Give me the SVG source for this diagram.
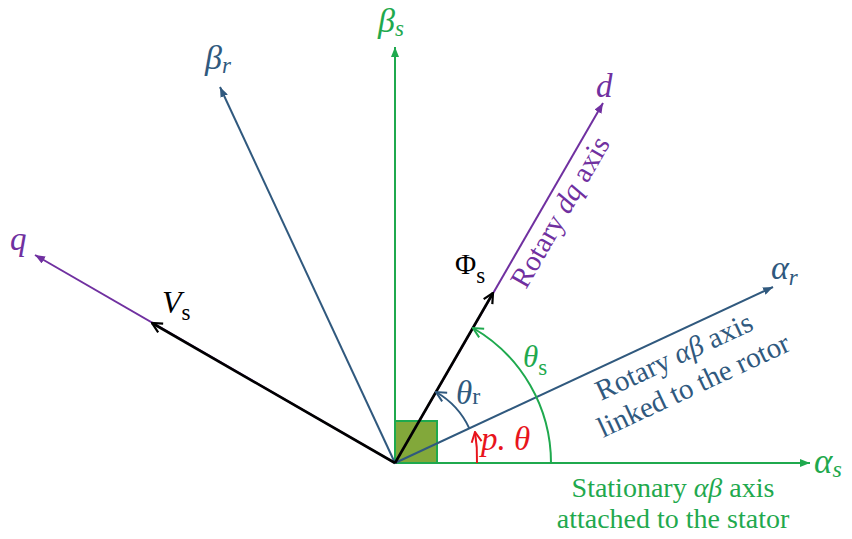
<svg xmlns="http://www.w3.org/2000/svg" width="852" height="539" viewBox="0 0 852 539">
<style>
.ax{fill:none;stroke-width:2}
.g{stroke:#1fa94e}
.b{stroke:#30597e}
.p{stroke:#7030a0}
.vec{fill:none;stroke:#000;stroke-width:2.6}
.t{font-family:"Liberation Serif",serif}
.m{font-family:"Liberation Serif",serif;font-style:italic}
.u{font-style:normal}
.tg{fill:#1fa94e}.tb{fill:#30597e}.tp{fill:#7030a0}.tk{fill:#000}.tr{fill:#e8141c}
</style>
<defs>
<marker id="fg" viewBox="0 0 10 8" refX="10" refY="4" markerWidth="10" markerHeight="8" markerUnits="userSpaceOnUse" orient="auto"><path d="M0,0 L10,4 L0,8 z" fill="#1fa94e"/></marker>
<marker id="fb" viewBox="0 0 10 8" refX="10" refY="4" markerWidth="10" markerHeight="8" markerUnits="userSpaceOnUse" orient="auto"><path d="M0,0 L10,4 L0,8 z" fill="#30597e"/></marker>
<marker id="fp" viewBox="0 0 10 8" refX="10" refY="4" markerWidth="10" markerHeight="8" markerUnits="userSpaceOnUse" orient="auto"><path d="M0,0 L10,4 L0,8 z" fill="#7030a0"/></marker>
<marker id="ok" viewBox="-1 -1 13 13" refX="11" refY="5.5" markerWidth="13" markerHeight="13" markerUnits="userSpaceOnUse" orient="auto"><path d="M1,0.5 L11,5.5 L1,10.5" fill="none" stroke="#000" stroke-width="2.2"/></marker>
<marker id="og" viewBox="-1 -1 13 13" refX="11" refY="5.5" markerWidth="13" markerHeight="13" markerUnits="userSpaceOnUse" orient="auto"><path d="M1,0.5 L11,5.5 L1,10.5" fill="none" stroke="#1fa94e" stroke-width="2"/></marker>
<marker id="ob" viewBox="-1 -1 13 13" refX="11" refY="5.5" markerWidth="13" markerHeight="13" markerUnits="userSpaceOnUse" orient="auto"><path d="M1,0.5 L11,5.5 L1,10.5" fill="none" stroke="#30597e" stroke-width="2"/></marker>
<marker id="or" viewBox="-1 -1 13 13" refX="11" refY="5.5" markerWidth="13" markerHeight="13" markerUnits="userSpaceOnUse" orient="auto"><path d="M1,0.5 L11,5.5 L1,10.5" fill="none" stroke="#e8141c" stroke-width="2"/></marker>
</defs>

<g id="right-angle">
<rect x="395" y="421" width="42" height="42" fill="#82a83a" stroke="#1fa94e" stroke-width="2"/>
</g>

<g id="connectors">
<line id="alpha-s-axis" class="ax g" x1="395" y1="463" x2="810" y2="463" marker-end="url(#fg)"/>
<line id="beta-s-axis" class="ax g" x1="395" y1="463" x2="395" y2="47" marker-end="url(#fg)"/>
<line id="alpha-r-axis" class="ax b" x1="395" y1="463" x2="773" y2="287" marker-end="url(#fb)"/>
<line id="beta-r-axis" class="ax b" x1="395" y1="463" x2="220" y2="87" marker-end="url(#fb)"/>
<line id="d-axis" class="ax p" x1="395" y1="463" x2="603" y2="103" marker-end="url(#fp)"/>
<line id="q-axis" class="ax p" x1="395" y1="463" x2="35" y2="255" marker-end="url(#fp)"/>
<line id="phi-s" class="vec" x1="395" y1="463" x2="493" y2="293" marker-end="url(#ok)"/>
<line id="v-s" class="vec" x1="395" y1="463" x2="152" y2="323" marker-end="url(#ok)"/>
<path id="arc-theta-s" d="M551,463 A156,156 0 0 0 473,328" fill="none" stroke="#1fa94e" stroke-width="2" marker-end="url(#og)"/>
<path id="arc-theta-r" d="M469.3,428.3 A82,82 0 0 0 436,392" fill="none" stroke="#30597e" stroke-width="2" marker-end="url(#ob)"/>
<path id="arc-p-theta" d="M477,463 A160,160 0 0 0 475,432" fill="none" stroke="#e8141c" stroke-width="2" marker-end="url(#or)"/>
</g>

<g id="label-beta-s"><text class="m tg" x="378" y="32" font-size="34">β<tspan font-size="23" dy="4">s</tspan></text></g>
<g id="label-beta-r"><text class="m tb" x="205" y="69" font-size="34">β<tspan font-size="23" dy="4">r</tspan></text></g>
<g id="label-d"><text class="m tp" x="596" y="97" font-size="33">d</text></g>
<g id="label-q"><text class="m tp" x="10" y="250" font-size="33">q</text></g>
<g id="label-alpha-r"><text class="m tb" x="771" y="279" font-size="34">α<tspan font-size="23" dy="6">r</tspan></text></g>
<g id="label-alpha-s"><text class="m tg" x="814" y="473" font-size="35">α<tspan font-size="24" dy="4">s</tspan></text></g>
<g id="label-vs"><text class="m tk" x="162" y="313" font-size="32">V<tspan class="u" font-size="23" dy="7">s</tspan></text></g>
<g id="label-phi-s"><text class="t tk" x="455" y="274" font-size="29">Φ<tspan font-size="23" dy="9">s</tspan></text></g>
<g id="label-theta-s"><text class="m tg" x="523" y="367" font-size="31">θ<tspan class="u" font-size="23" dy="8">s</tspan></text></g>
<g id="label-theta-r"><text class="m tb" x="456" y="404" font-size="33">θ<tspan class="u" font-size="24">r</tspan></text></g>
<g id="label-p-theta"><text class="m tr" x="481" y="450" font-size="33">p. θ</text></g>

<g id="label-rotary-dq"><text class="t tp" font-size="29" transform="translate(526,290) rotate(-60)">Rotary <tspan font-style="italic">dq</tspan> axis</text></g>
<g id="label-rotary-ab">
<text class="t tb" font-size="29" transform="translate(601,401) rotate(-25)">Rotary <tspan font-style="italic">αβ</tspan> axis</text>
<text class="t tb" font-size="29" transform="translate(603,438) rotate(-25)">linked to the rotor</text>
</g>
<g id="label-stationary">
<text class="t tg" font-size="28" x="673" y="497" text-anchor="middle">Stationary <tspan font-style="italic">αβ</tspan>  axis</text>
<text class="t tg" font-size="28" x="673" y="528" text-anchor="middle">attached to the stator</text>
</g>
</svg>
